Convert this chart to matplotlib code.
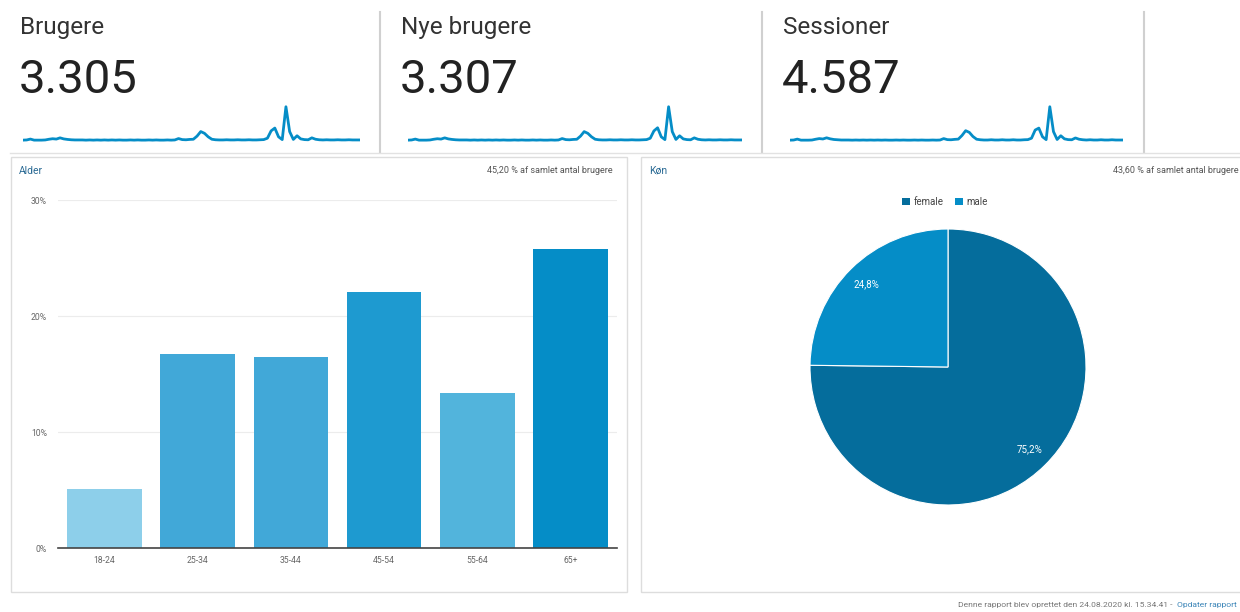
import numpy as np
import matplotlib
matplotlib.use('Agg')
import matplotlib.pyplot as plt
from matplotlib.patches import Rectangle, Patch
from matplotlib.lines import Line2D

plt.rcParams['font.family'] = ['Roboto', 'DejaVu Sans']

W, H = 1240, 612

# KPI tiles
kpi_titles = ['Brugere', 'Nye brugere', 'Sessioner']
kpi_values = ['3.305', '3.307', '4.587']

# daily sparkline values
users = [
    9, 10, 15, 9, 9, 9, 10, 14, 17, 15, 22, 16, 13, 11, 10, 10, 10, 9, 10, 9,
    10, 9, 10, 9, 10, 9, 10, 9, 9, 10, 9, 10, 9, 9, 10, 9, 10, 9, 9, 10,
    9, 10, 18, 12, 11, 13, 14, 32, 58, 48, 28, 14, 11, 10, 10, 11, 10, 10, 11, 10,
    10, 11, 10, 10, 11, 12, 20, 62, 78, 28, 12, 200, 58, 13, 34, 16, 12, 11, 22, 14,
    11, 10, 11, 10, 10, 11, 10, 10, 11, 10, 10, 10]
new_users = [
    9, 10, 15, 9, 9, 9, 10, 14, 17, 15, 22, 16, 13, 11, 10, 10, 10, 9, 10, 9,
    10, 9, 10, 9, 10, 9, 10, 9, 9, 10, 9, 10, 9, 9, 10, 9, 10, 9, 9, 10,
    9, 10, 18, 12, 11, 13, 14, 32, 58, 48, 28, 14, 11, 10, 10, 11, 10, 10, 11, 10,
    10, 11, 10, 10, 11, 12, 20, 62, 80, 28, 12, 201, 58, 13, 34, 16, 12, 11, 22, 14,
    11, 10, 11, 10, 10, 11, 10, 10, 11, 10, 10, 10]
sessions = [
    12, 13, 20, 12, 12, 12, 13, 19, 24, 21, 30, 22, 17, 15, 13, 13, 13, 12, 13, 12,
    13, 12, 13, 12, 13, 12, 13, 12, 12, 13, 12, 13, 12, 12, 13, 12, 13, 12, 12, 13,
    12, 13, 24, 16, 15, 18, 20, 48, 85, 72, 40, 19, 15, 13, 13, 15, 13, 13, 15, 13,
    13, 15, 13, 13, 15, 16, 27, 90, 105, 38, 16, 270, 78, 17, 46, 22, 16, 15, 29, 19,
    15, 13, 15, 13, 13, 15, 13, 13, 15, 13, 13, 13]
spark_series = [users, new_users, sessions]

# age distribution (% of users)
age_groups = ['18-24', '25-34', '35-44', '45-54', '55-64', '65+']
age_share = [5.1, 16.7, 16.5, 22.1, 13.4, 25.8]
age_colors = ['#8dcfea', '#41a8d8', '#41a8d8', '#1e9ad0', '#52b4dc', '#058dc7']

# gender split
genders = ['female', 'male']
gender_share = [75.2, 24.8]
gender_colors = ['#056d9c', '#058dc7']


def fx(x):
    return x / W


def fy(y):
    return 1 - y / H


fig = plt.figure(figsize=(W / 100, H / 100), dpi=100)
fig.patch.set_facecolor('white')

# --- top tiles ---
tile_x = [20, 401, 783]
spark_x = [(23, 360), (408, 742), (790, 1123)]
for i in range(3):
    fig.text(fx(tile_x[i]), fy(34), kpi_titles[i], fontsize=17.5, color='#333333',
             ha='left', va='baseline')
    fig.text(fx(tile_x[i] - 1), fy(93), kpi_values[i], fontsize=34, color='#222222',
             ha='left', va='baseline')
    x0, x1 = spark_x[i]
    sax = fig.add_axes([fx(x0), fy(141.7), fx(x1 - x0), (141.7 - 105) / H])
    s = spark_series[i]
    sax.plot(np.arange(len(s)), s, color='#058dc7', lw=2, solid_joinstyle='round')
    sax.set_xlim(0, len(s) - 1)
    sax.set_ylim(0, max(s) * 1.05)
    sax.axis('off')

for x in [380, 762, 1144]:
    fig.add_artist(Line2D([fx(x), fx(x)], [fy(12), fy(152)], color='#d0d0d0', lw=1.5))
fig.add_artist(Line2D([fx(10), fx(1240)], [fy(153), fy(153)], color='#e2e2e2', lw=1))

# --- panels ---
fig.add_artist(Rectangle((fx(11), fy(592)), fx(616), (592 - 157) / H,
                         facecolor='none', edgecolor='#dddddd', lw=1))
fig.add_artist(Rectangle((fx(641), fy(592)), fx(620), (592 - 157) / H,
                         facecolor='none', edgecolor='#dddddd', lw=1))

fig.text(fx(19), fy(174), 'Alder', fontsize=7.5, color='#2a6a94', ha='left', va='baseline')
fig.text(fx(613), fy(173), '45,20 % af samlet antal brugere', fontsize=6.5,
         color='#555555', ha='right', va='baseline')
fig.text(fx(649), fy(174), 'Køn', fontsize=7.5, color='#2a6a94', ha='left', va='baseline')
fig.text(fx(1239), fy(173), '43,60 % af samlet antal brugere', fontsize=6.5,
         color='#555555', ha='right', va='baseline')

# --- age bar chart ---
ax = fig.add_axes([fx(58), fy(548), fx(617 - 58), (548 - 200) / H])
xpos = np.arange(len(age_groups))
ax.bar(xpos, age_share, width=0.8, color=age_colors, zorder=2)
ax.set_xlim(-0.5, len(age_groups) - 0.5)
ax.set_ylim(0, 30)
ax.set_yticks([0, 10, 20, 30])
ax.set_yticklabels(['0%', '10%', '20%', '30%'])
ax.set_xticks(xpos)
ax.set_xticklabels(age_groups)
ax.tick_params(axis='both', length=0, labelsize=6.2, labelcolor='#666666')
ax.tick_params(axis='y', pad=8)
ax.tick_params(axis='x', pad=6)
ax.grid(axis='y', color='#ececec', lw=0.8, zorder=0)
for sp in ['top', 'right', 'left']:
    ax.spines[sp].set_visible(False)
ax.spines['bottom'].set_color('#444444')
ax.spines['bottom'].set_linewidth(1.2)
ax.spines['bottom'].set_zorder(3)

# --- gender pie ---
r = 138
pax = fig.add_axes([fx(948 - r), fy(367 + r), fx(2 * r), 2 * r / H])
pax.pie(gender_share, colors=gender_colors, startangle=90, counterclock=False,
        autopct=lambda p: f'{p:.1f}%'.replace('.', ','), pctdistance=0.84,
        wedgeprops=dict(edgecolor='white', linewidth=0.8),
        textprops=dict(color='white', fontsize=7))
pax.set_xlim(-1, 1)
pax.set_ylim(-1, 1)

handles = [Patch(facecolor=c, edgecolor='none') for c in gender_colors]
fig.legend(handles, genders, loc='center', bbox_to_anchor=(fx(945), fy(202)),
           ncol=2, frameon=False, fontsize=7, handlelength=0.8, handleheight=0.8,
           handletextpad=0.4, columnspacing=1.2, labelcolor='#444444')

# --- footer ---
link = fig.text(fx(1237), fy(607), 'Opdater rapport', fontsize=6.1, color='#3d86b8',
                ha='right', va='baseline')
fig.add_artist(plt.Annotation('Denne rapport blev oprettet den 24.08.2020 kl. 15.34.41 - ',
                              xy=(0, 0), xycoords=link, xytext=(-2, 0),
                              textcoords='offset points', fontsize=6.1,
                              color='#777777', ha='right', va='bottom'))

plt.savefig('out.png', dpi=100)
